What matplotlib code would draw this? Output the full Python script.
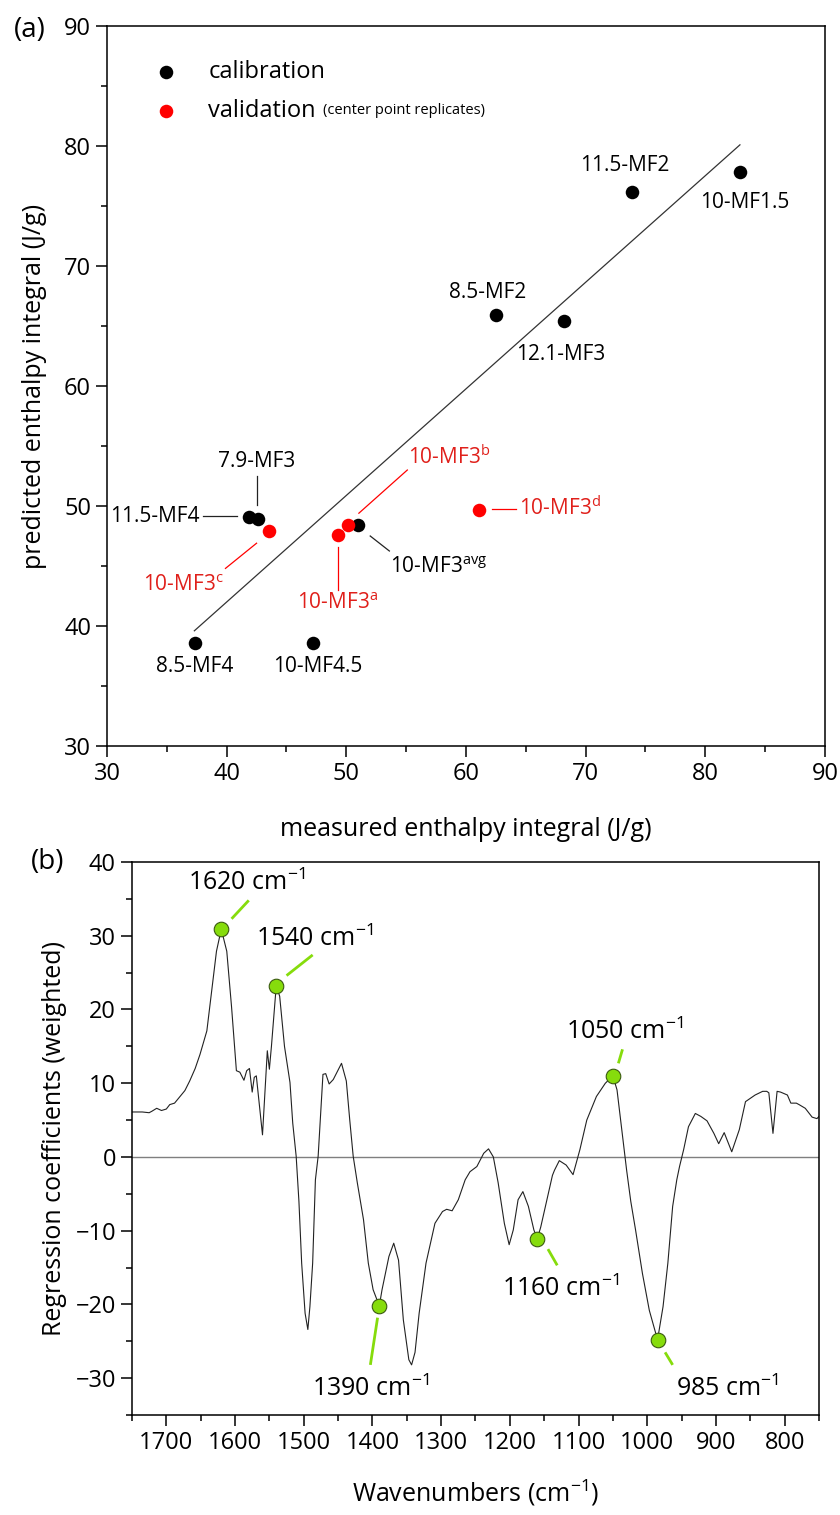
import matplotlib
matplotlib.use("Agg")
import matplotlib.pyplot as plt
from matplotlib.ticker import MultipleLocator
import numpy as np

plt.rcParams["font.family"] = ["Open Sans", "DejaVu Sans"]
plt.rcParams["mathtext.fontset"] = "custom"
plt.rcParams["mathtext.rm"] = "Open Sans"
plt.rcParams["mathtext.it"] = "Open Sans:italic"
plt.rcParams["mathtext.default"] = "regular"

# ---- panel (a): measured vs predicted enthalpy integral ----
cal_names = ["8.5-MF4", "10-MF4.5", "11.5-MF4", "7.9-MF3", "10-MF3avg",
             "8.5-MF2", "12.1-MF3", "11.5-MF2", "10-MF1.5"]
cal_x = [37.35, 47.2, 41.9, 42.6, 51.0, 62.5, 68.2, 73.9, 82.9]
cal_y = [38.6, 38.6, 49.1, 48.9, 48.4, 65.9, 65.4, 76.2, 77.8]

val_names = ["10-MF3a", "10-MF3b", "10-MF3c", "10-MF3d"]
val_x = [49.3, 50.1, 43.5, 61.1]
val_y = [47.6, 48.4, 47.9, 49.7]

fit_x = [37.3, 82.9]
fit_y = [39.6, 80.1]

# ---- panel (b): weighted regression coefficients ----
wavenumber = [1750, 1735, 1725, 1721, 1714, 1707, 1700, 1695, 1688, 1680, 1673,
              1666, 1658, 1651, 1641, 1634, 1627, 1620, 1612, 1605, 1598, 1593,
              1587, 1583, 1579, 1575, 1572, 1569, 1565, 1560, 1557, 1553, 1550,
              1547, 1540, 1535, 1528, 1520, 1516, 1511, 1507, 1503, 1498, 1494,
              1491, 1487, 1483, 1479, 1472, 1468, 1463, 1457, 1450, 1445, 1438,
              1433, 1428, 1422, 1413, 1406, 1399, 1390, 1386, 1376, 1369, 1362,
              1355, 1347, 1343, 1338, 1332, 1322, 1309, 1298, 1292, 1284, 1275,
              1265, 1258, 1248, 1238, 1231, 1224, 1217, 1211, 1208, 1201, 1195,
              1188, 1181, 1173, 1165, 1160, 1155, 1145, 1138, 1135, 1128, 1118,
              1108, 1098, 1088, 1074, 1061, 1050, 1044, 1037, 1030, 1024, 1017,
              1007, 997, 985, 977, 970, 963, 957, 953, 947, 940, 930, 922, 913,
              903, 896, 888, 877, 866, 857, 843, 832, 826, 823, 817, 811, 806,
              796, 791, 783, 779, 770, 760, 753, 750]
coefficient = [6.1, 6.1, 6.0, 6.2, 6.6, 6.3, 6.5, 7.1, 7.3, 8.2, 9.0,
               10.3, 12.0, 13.9, 17.1, 22.5, 27.9, 30.9, 27.9, 20.3, 11.7, 11.5,
               10.4, 11.7, 12.0, 8.8, 10.8, 11.0, 7.4, 3.0, 7.8, 14.4, 11.9,
               15.0, 23.2, 21.8, 15.0, 10.1, 4.6, 0.1, -6.0, -14.4, -21.2, -23.4,
               -20.3, -14.4, -3.1, 0.1, 11.2, 11.3, 9.9, 10.5, 11.8, 12.7, 10.3,
               5.0, 0.1, -3.5, -8.5, -14.4, -18.0, -20.2, -18.0, -13.5, -11.7, -14.0,
               -22.1, -27.5, -28.2, -26.5, -21.2, -14.4, -9.0, -7.4, -7.1, -7.3, -5.8,
               -3.1, -2.0, -1.3, 0.5, 1.1, 0.0, -3.5, -7.2, -9.0, -11.9, -9.9,
               -5.8, -4.7, -6.7, -9.9, -11.1, -9.5, -5.4, -2.5, -1.8, -0.5, -1.1,
               -2.4, 1.0, 5.0, 8.2, 10.0, 11.0, 9.1, 3.7, -1.8, -6.0, -9.9,
               -15.8, -20.8, -24.8, -20.3, -14.4, -6.7, -3.1, -1.3, 1.0, 4.1, 5.9, 5.5, 4.9,
               3.2, 1.8, 3.3, 0.7, 3.7, 7.5, 8.4, 8.9, 8.9, 8.7, 3.2, 8.9, 8.8,
               8.4, 7.3, 7.3, 7.1, 6.6, 5.4, 5.2, 5.5]

peak_wn = [1620, 1540, 1390, 1160, 1050, 985]

BLACK = "#000000"
RED = "#ff0000"
RED_TEXT = "#e0201b"
GREEN = "#86dc0c"


def style_axes(ax):
    for s in ax.spines.values():
        s.set_linewidth(1.1)
    ax.tick_params(which="major", direction="out", length=8, width=1.1,
                   labelsize=17, top=False, right=False)
    ax.tick_params(which="minor", direction="out", length=4.5, width=1.1,
                   top=False, right=False)


def main():
    fig = plt.figure(figsize=(8.4, 15.15), dpi=100)

    # ---------------- (a) ----------------
    ax = fig.add_axes([0.1274, 0.5076, 0.8546, 0.4752])
    ax.plot(fit_x, fit_y, color="#333333", lw=0.9, zorder=1)
    ax.scatter(cal_x, cal_y, s=95, color=BLACK, zorder=3, linewidths=0)
    ax.scatter(val_x, val_y, s=95, color=RED, zorder=4, linewidths=0)

    ax.set_xlim(30, 90)
    ax.set_ylim(30, 90)
    ax.xaxis.set_major_locator(MultipleLocator(10))
    ax.xaxis.set_minor_locator(MultipleLocator(5))
    ax.yaxis.set_major_locator(MultipleLocator(10))
    ax.yaxis.set_minor_locator(MultipleLocator(5))
    style_axes(ax)
    ax.set_xlabel("measured enthalpy integral (J/g)", fontsize=18, labelpad=22)
    ax.set_ylabel("predicted enthalpy integral (J/g)", fontsize=18, labelpad=12)

    # legend drawn by hand
    ax.scatter([0.082], [0.936], s=95, color=BLACK, transform=ax.transAxes,
               clip_on=False, linewidths=0)
    ax.scatter([0.082], [0.882], s=95, color=RED, transform=ax.transAxes,
               clip_on=False, linewidths=0)
    ax.text(0.141, 0.936, "calibration", transform=ax.transAxes, fontsize=17,
            va="center")
    vt = ax.text(0.141, 0.882, "validation", transform=ax.transAxes,
                 fontsize=17, va="center")
    ax.annotate("(center point replicates)", xy=(1, 0.22), xycoords=vt,
                xytext=(5, 0), textcoords="offset points", fontsize=10.5,
                va="bottom")

    lbl = dict(fontsize=15)
    # point labels (text x, text y, ha, va) and leader lines
    cal_labels = {
        "8.5-MF4": (37.3, 36.6, "center", "center"),
        "10-MF4.5": (47.6, 36.6, "center", "center"),
        "11.5-MF4": (34.0, 49.1, "center", "center"),
        "7.9-MF3": (42.5, 53.7, "center", "center"),
        "10-MF3avg": (57.7, 44.9, "center", "center"),
        "8.5-MF2": (61.8, 67.8, "center", "center"),
        "12.1-MF3": (67.9, 62.6, "center", "center"),
        "11.5-MF2": (73.3, 78.4, "center", "center"),
        "10-MF1.5": (83.3, 75.3, "center", "center"),
    }
    for name, (tx, ty, ha, va) in cal_labels.items():
        txt = name.replace("avg", "$^{avg}$")
        ax.text(tx, ty, txt, ha=ha, va=va, color=BLACK, **lbl)

    val_labels = {
        "10-MF3a": (49.3, 41.9, "center", "center"),
        "10-MF3b": (58.6, 54.1, "center", "center"),
        "10-MF3c": (36.4, 43.4, "center", "center"),
        "10-MF3d": (64.4, 49.85, "left", "center"),
    }
    for name, (tx, ty, ha, va) in val_labels.items():
        txt = name[:-1] + "$^{" + name[-1] + "}$"
        ax.text(tx, ty, txt, ha=ha, va=va, color=RED_TEXT, **lbl)

    black_leaders = [((42.55, 42.55), (52.5, 50.1)),
                     ((38.0, 40.9), (49.2, 49.2)),
                     ((52.0, 53.6), (47.5, 46.25))]
    red_leaders = [((49.3, 49.3), (46.6, 43.0)),
                   ((51.05, 55.1), (49.4, 53.0)),
                   ((39.9, 42.5), (44.8, 46.9)),
                   ((62.2, 64.2), (49.75, 49.75))]
    for lx, ly in black_leaders:
        ax.plot(lx, ly, color="#222222", lw=0.9)
    for lx, ly in red_leaders:
        ax.plot(lx, ly, color=RED, lw=0.9)

    fig.text(0.036, 0.9802, "(a)", fontsize=20, ha="center", va="center")

    # ---------------- (b) ----------------
    bx = fig.add_axes([0.1571, 0.0660, 0.8179, 0.3650])
    bx.axhline(0, color="#7f7f7f", lw=1.0, zorder=1)
    bx.plot(wavenumber, coefficient, color="#222222", lw=0.8, zorder=2)
    peak_val = np.interp(peak_wn, wavenumber[::-1], coefficient[::-1])
    bx.scatter(peak_wn, peak_val, s=110, color=GREEN, edgecolors="#3a5a10",
               linewidths=0.8, zorder=4)

    bx.set_xlim(1750, 750)
    bx.set_ylim(-35, 40)
    bx.xaxis.set_major_locator(MultipleLocator(100))
    bx.xaxis.set_minor_locator(MultipleLocator(50))
    bx.yaxis.set_major_locator(MultipleLocator(10))
    bx.yaxis.set_minor_locator(MultipleLocator(5))
    style_axes(bx)
    bx.set_xlabel("Wavenumbers (cm$^{\u22121}$)", fontsize=18, labelpad=16)
    bx.set_ylabel("Regression coefficients (weighted)", fontsize=18,
                  labelpad=6)

    peak_labels = {
        1620: (1583, 37.2),
        1540: (1484, 29.6),
        1390: (1402, -31.4),
        1160: (1126, -17.9),
        1050: (1033, 17.0),
        985: (883, -31.4),
    }
    peak_leaders = {
        1620: ((1605, 1580), (32.3, 34.8)),
        1540: ((1525, 1487), (24.6, 27.4)),
        1390: ((1392.5, 1403), (-21.8, -28.2)),
        1160: ((1144.5, 1131), (-12.5, -14.7)),
        1050: ((1042, 1036), (12.7, 14.6)),
        985: ((974, 963), (-26.5, -28.2)),
    }
    for wn, (tx, ty) in peak_labels.items():
        bx.text(tx, ty, f"{wn} cm$^{{\u22121}}$", fontsize=18,
                ha="center", va="center")
        lx, ly = peak_leaders[wn]
        bx.plot(lx, ly, color=GREEN, lw=2.0, solid_capstyle="butt", zorder=3)

    fig.text(0.057, 0.4311, "(b)", fontsize=20, ha="center", va="center")

    fig.savefig("out.png", dpi=100)
    plt.close(fig)


if __name__ == "__main__":
    main()
